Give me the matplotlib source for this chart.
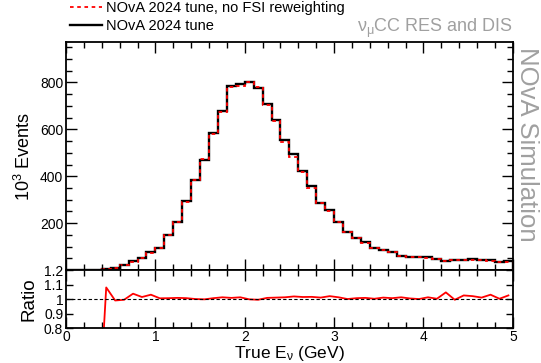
import numpy as np
import matplotlib
matplotlib.use("Agg")
import matplotlib.pyplot as plt
from matplotlib.ticker import MultipleLocator, FixedLocator

plt.rcParams['font.family'] = ['Liberation Sans', 'DejaVu Sans']
plt.rcParams['mathtext.fontset'] = 'custom'
plt.rcParams['mathtext.rm'] = 'Liberation Sans'
plt.rcParams['mathtext.it'] = 'Liberation Sans'

# true neutrino energy bins (GeV)
bin_edges = np.linspace(0, 5, 51)

# 10^3 events per 0.1 GeV bin, NOvA 2024 tune
tune = [0.3, 0.5, 1, 2, 4, 8, 23, 37, 53, 76,
        96, 151, 206, 293, 383, 471, 585, 680, 785, 794,
        802, 778, 710, 640, 554, 493, 424, 357, 288, 256,
        206, 164, 138, 118, 94, 86, 77, 61, 57, 56,
        54, 48, 40, 41, 43, 46, 43, 41, 36, 37]

# same, without FSI reweighting
no_fsi = [0.3, 0.5, 1, 2, 3.7, 8.1, 23.1, 35.7, 52.3, 73.8,
          95.5, 150, 204, 291, 383, 472, 581, 672, 779, 785,
          804, 782, 704, 634, 547, 484, 418, 352, 285, 251,
          204, 164, 137, 117, 94, 85, 76.5, 60, 57, 56,
          53, 48, 38, 41, 42, 45, 42.5, 40, 36, 36]

# ratio shown in the lower panel
ratio = [0, 0, 0, 0, 1.08, 0.99, 0.995, 1.037, 1.014, 1.03,
         1.005, 1.006, 1.008, 1.006, 1.0, 0.998, 1.006, 1.012, 1.008, 1.012,
         0.998, 0.995, 1.008, 1.01, 1.012, 1.018, 1.014, 1.015, 1.01, 1.02,
         1.012, 1.0, 1.006, 1.008, 1.002, 1.01, 1.006, 1.012, 1.004, 1.0,
         1.012, 1.002, 1.046, 0.995, 1.025, 1.02, 1.01, 1.03, 1.002, 1.025]

centers = 0.5 * (bin_edges[:-1] + bin_edges[1:])

fig = plt.figure(figsize=(5.41, 3.63), dpi=100)
ax = fig.add_axes([0.122, 0.256, 0.826, 0.628])
rax = fig.add_axes([0.122, 0.0964, 0.826, 0.1596])

# main panel
ax.stairs(tune, bin_edges, color='black', lw=1.7, label='NOvA 2024 tune')
ax.stairs(no_fsi, bin_edges, color='red', lw=1.3, linestyle=(0, (2, 2)),
          label='NOvA 2024 tune, no FSI reweighting')
ax.set_xlim(0, 5)
ax.set_ylim(0, 972)
ax.yaxis.set_major_locator(FixedLocator([200, 400, 600, 800]))
ax.yaxis.set_minor_locator(MultipleLocator(50))
ax.xaxis.set_major_locator(MultipleLocator(1))
ax.xaxis.set_minor_locator(MultipleLocator(0.2))
ax.set_xticklabels([])
ax.set_ylabel('10$^3$ Events', fontsize=13, labelpad=4)

# ratio panel
rax.plot(centers, ratio, color='red', lw=1.3)
rax.axhline(1, color='black', lw=0.8, linestyle=(0, (3, 2)))
rax.set_xlim(0, 5)
rax.set_ylim(0.8, 1.2)
rax.set_yticks([0.8, 0.9, 1.0, 1.1, 1.2])
rax.set_yticklabels(['0.8', '0.9', '1', '1.1', '1.2'])
rax.xaxis.set_major_locator(MultipleLocator(1))
rax.xaxis.set_minor_locator(MultipleLocator(0.2))
rax.set_xlabel(r'True E$_\nu$ (GeV)', fontsize=12.5, labelpad=-0.3)
rax.set_ylabel('Ratio', fontsize=13.5, labelpad=5)

for a in (ax, rax):
    a.tick_params(which='both', direction='in', top=True, right=True,
                  labelsize=10, pad=2, width=1)
    a.tick_params(which='major', length=8)
    a.tick_params(which='minor', length=4)
    for s in a.spines.values():
        s.set_linewidth(1.3)
rax.tick_params(axis='y', which='major', length=5)
rax.tick_params(axis='x', pad=1.5)

# legend and labels
handles, labels = ax.get_legend_handles_labels()
fig.legend(handles[::-1], labels[::-1], loc='upper left',
           bbox_to_anchor=(0.124, 1.005), frameon=False, fontsize=10.5,
           handlelength=2.2, handletextpad=0.25, labelspacing=0.25,
           borderaxespad=0, borderpad=0.2)

fig.text(0.948, 0.912, r'$\nu_\mu$CC RES and DIS', ha='right', va='baseline',
         fontsize=13, color='#a0a0a0')
fig.text(0.975, 0.603, 'NOvA Simulation', rotation=270, ha='center', va='center',
         fontsize=18.5, color='#a0a0a0')

fig.savefig('out.png', dpi=100)
